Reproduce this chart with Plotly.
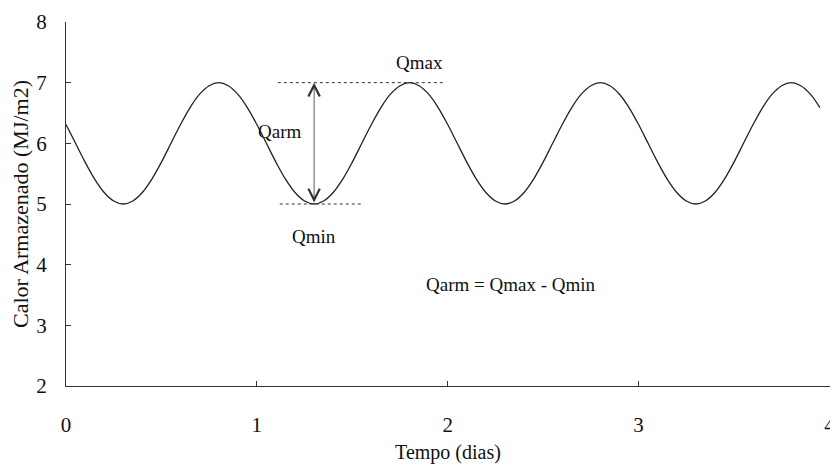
import plotly.graph_objects as go

# tempo (dias) e calor armazenado (MJ/m2)
tempo = [0.00, 0.05, 0.10, 0.15, 0.20, 0.25, 0.30, 0.35, 0.40, 0.45,
         0.50, 0.55, 0.60, 0.65, 0.70, 0.75, 0.80, 0.85, 0.90, 0.95,
         1.00, 1.05, 1.10, 1.15, 1.20, 1.25, 1.30, 1.35, 1.40, 1.45,
         1.50, 1.55, 1.60, 1.65, 1.70, 1.75, 1.80, 1.85, 1.90, 1.95,
         2.00, 2.05, 2.10, 2.15, 2.20, 2.25, 2.30, 2.35, 2.40, 2.45,
         2.50, 2.55, 2.60, 2.65, 2.70, 2.75, 2.80, 2.85, 2.90, 2.95,
         3.00, 3.05, 3.10, 3.15, 3.20, 3.25, 3.30, 3.35, 3.40, 3.45,
         3.50, 3.55, 3.60, 3.65, 3.70, 3.75, 3.80, 3.85, 3.90, 3.95]
calor = [6.31, 6.00, 5.69, 5.41, 5.19, 5.05, 5.00, 5.05, 5.19, 5.41,
         5.69, 6.00, 6.31, 6.59, 6.81, 6.95, 7.00, 6.95, 6.81, 6.59,
         6.31, 6.00, 5.69, 5.41, 5.19, 5.05, 5.00, 5.05, 5.19, 5.41,
         5.69, 6.00, 6.31, 6.59, 6.81, 6.95, 7.00, 6.95, 6.81, 6.59,
         6.31, 6.00, 5.69, 5.41, 5.19, 5.05, 5.00, 5.05, 5.19, 5.41,
         5.69, 6.00, 6.31, 6.59, 6.81, 6.95, 7.00, 6.95, 6.81, 6.59,
         6.31, 6.00, 5.69, 5.41, 5.19, 5.05, 5.00, 5.05, 5.19, 5.41,
         5.69, 6.00, 6.31, 6.59, 6.81, 6.95, 7.00, 6.95, 6.81, 6.59]

qmax_x = [1.11, 1.98]
qmax_y = [7, 7]
qmin_x = [1.12, 1.55]
qmin_y = [5, 5]
t_arm = 1.30

font = 'Liberation Serif'

fig = go.Figure()
fig.add_trace(go.Scatter(x=tempo, y=calor, mode='lines', line_shape='spline',
                         line=dict(color='#222222', width=1.3)))
fig.add_trace(go.Scatter(x=qmax_x, y=qmax_y, mode='lines',
                         line=dict(color='#333333', width=1, dash='dot')))
fig.add_trace(go.Scatter(x=qmin_x, y=qmin_y, mode='lines',
                         line=dict(color='#333333', width=1, dash='dot')))

fig.add_annotation(x=t_arm, y=7, ax=t_arm, ay=5, xref='x', yref='y', axref='x', ayref='y',
                   text='', showarrow=True, arrowhead=5, startarrowhead=5, arrowside='end+start',
                   arrowwidth=0.8, arrowsize=2.8, startarrowsize=2.8, arrowcolor='#333333')

labels = [(1.12, 6.20, 'Qarm'), (1.85, 7.34, 'Qmax'), (1.30, 4.46, 'Qmin'),
          (2.33, 3.68, 'Qarm = Qmax - Qmin')]
for lx, ly, txt in labels:
    fig.add_annotation(x=lx, y=ly, text=txt, showarrow=False,
                       font=dict(family=font, size=19, color='#111111'))

# a pagina tem 8px de margem no body: a figura fica 8px menor
fig.update_layout(width=830, height=456, showlegend=False,
                  plot_bgcolor='white', paper_bgcolor='white',
                  margin=dict(l=58, r=8, t=14, b=78, autoexpand=False),
                  font=dict(family=font, size=21, color='#111111'))
fig.update_xaxes(range=[0, 4.003], tickvals=[0, 1, 2, 3, 4], showgrid=False, zeroline=False,
                 showline=True, linecolor='#333333', linewidth=1, automargin=False,
                 ticks='inside', ticklen=5, tickcolor='#333333', ticklabelstandoff=20,
                 ticklabeloverflow='allow',
                 title=dict(text='Tempo (dias)', standoff=8, font=dict(size=20)))
fig.update_yaxes(range=[2, 8], tickvals=[2, 3, 4, 5, 6, 7, 8], showgrid=False, zeroline=False,
                 showline=True, linecolor='#333333', linewidth=1, automargin=False,
                 ticks='inside', ticklen=5, tickcolor='#333333', ticklabelstandoff=14,
                 title=dict(text='Calor Armazenado (MJ/m2)', standoff=8, font=dict(size=22)))

fig.write_html("out.html")
